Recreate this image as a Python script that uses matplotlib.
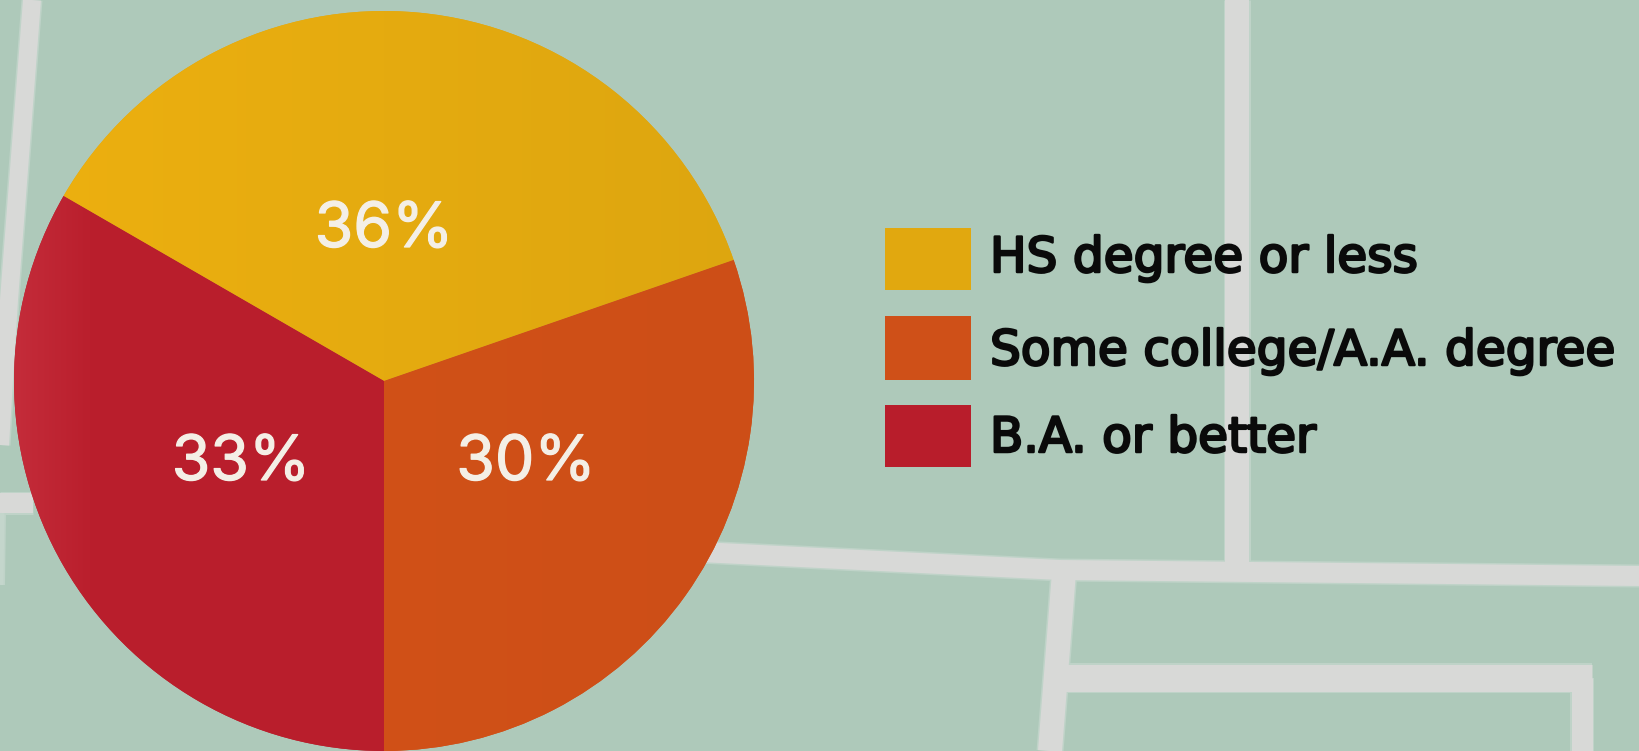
import numpy as np
import matplotlib
matplotlib.use("Agg")
import matplotlib.pyplot as plt
import matplotlib.patheffects as pe
from matplotlib.patches import Rectangle

categories = ["HS degree or less", "Some college/A.A. degree", "B.A. or better"]
values = [36, 30, 33]
value_labels = ["36%", "30%", "33%"]
colors = ["#E1A80F", "#CF5018", "#B81D2B"]

W, H = 1640, 751
BG = "#AEC9BA"
ROAD = "#D8D9D7"


def flip(y):
    return H - y


fig = plt.figure(figsize=(W / 100, H / 100), dpi=100, facecolor=BG)
ax = fig.add_axes([0, 0, 1, 1])

# pie, clockwise from the upper left
cx, cy, rad = 384, 381, 370
wedges, _ = ax.pie(values, colors=colors, startangle=150, counterclock=False,
                   center=(cx, flip(cy)), radius=rad, wedgeprops={"linewidth": 0})

ax.set_xlim(0, W)
ax.set_ylim(0, H)
ax.set_aspect("auto")
ax.set_axis_off()

# street map behind everything
roads = [
    ([32, 9, 0], [0, 300, 445], 18, ROAD),
    ([0, 33], [503, 503], 20, ROAD),
    ([2, 1], [513, 585], 5, "#C4D6CC"),
    ([700, 1060, 1640], [552, 570, 576], 20, ROAD),
    ([1237, 1237], [0, 570], 24, ROAD),
    ([1064, 1050], [572, 751], 24, ROAD),
    ([1052, 1592], [678, 678], 27, ROAD),
    ([1582, 1582], [678, 751], 21, ROAD),
]
for xs, ys, lw_px, col in roads:
    ys = [flip(y) for y in ys]
    ax.plot(xs, ys, color="#BFD3C8", lw=(lw_px + 3) * 0.72, solid_capstyle="butt", zorder=0.5)
    ax.plot(xs, ys, color=col, lw=lw_px * 0.72, solid_capstyle="butt", zorder=0.6)

# soft left-to-right shading inside each slice
shades = [
    ([0, 1], ["#EDB010", "#DDA60F"]),
    ([0, 1], ["#D45419", "#CD4E17"]),
    ([0, 0.1, 1], ["#C42C3A", "#BA1F2D", "#B81D2B"]),
]
t = np.linspace(0, 1, 256)
for wedge, (stops, shade) in zip(wedges, shades):
    rgb = np.array([matplotlib.colors.to_rgb(c) for c in shade])
    grad = np.stack([np.interp(t, stops, rgb[:, i]) for i in range(3)], axis=-1)[None, :, :]
    im = ax.imshow(grad, extent=(cx - rad, cx + rad, flip(cy + rad), flip(cy - rad)),
                   aspect="auto", zorder=wedge.get_zorder() + 0.1)
    im.set_clip_path(wedge)
ax.set_xlim(0, W)
ax.set_ylim(0, H)

# value labels
label_x = [384, 526, 241]
label_y = [247, 480, 480]
for x, y, s in zip(label_x, label_y, value_labels):
    ax.text(x, flip(y), s, color="#F4EFE6", fontsize=45, family="Inter",
            ha="center", va="baseline", zorder=5,
            path_effects=[pe.withStroke(linewidth=0.9, foreground="#F4EFE6")])

# legend
box_tops = [228, 316, 405]
box_bots = [290, 380, 467]
baselines = [272, 365, 452]
for name, col, top, bot, base in zip(categories, colors, box_tops, box_bots, baselines):
    ax.add_patch(Rectangle((885, flip(bot)), 86, bot - top, facecolor=col, edgecolor="none", zorder=5))
    ax.text(990, flip(base), name, color="#0A0A0A", fontsize=35, family="DejaVu Sans",
            ha="left", va="baseline", zorder=5,
            path_effects=[pe.withStroke(linewidth=1.8, foreground="#0A0A0A")])

fig.savefig("out.png", dpi=100, facecolor=BG)
